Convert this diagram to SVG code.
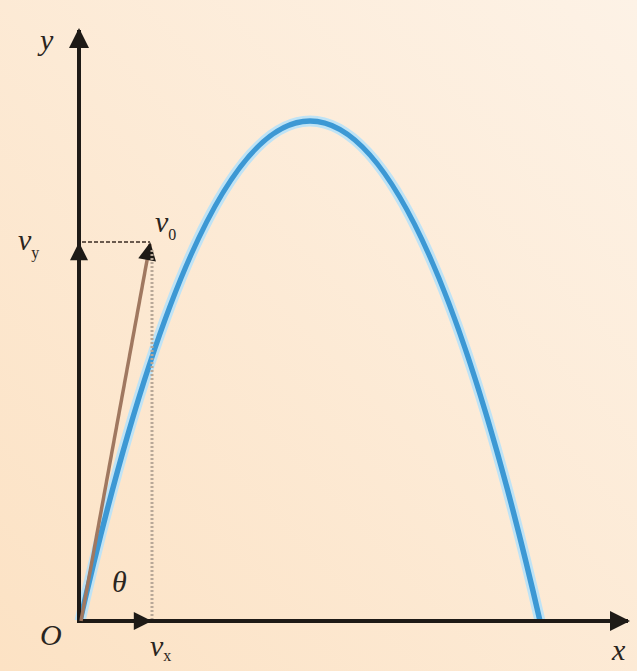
<svg xmlns="http://www.w3.org/2000/svg" width="637" height="671" viewBox="0 0 637 671">
<defs>
<linearGradient id="bg" x1="0" y1="1" x2="1" y2="0">
<stop offset="0" stop-color="#fce2c4"/>
<stop offset="1" stop-color="#fdf2e6"/>
</linearGradient>
<marker id="big" viewBox="0 0 10 10" refX="9" refY="5" markerWidth="26" markerHeight="20" markerUnits="userSpaceOnUse" orient="auto">
<path d="M0,0 L10,5 L0,10 Z" fill="#1e1a16"/>
</marker>
<marker id="mid" viewBox="0 0 10 10" refX="9" refY="5" markerWidth="24" markerHeight="18" markerUnits="userSpaceOnUse" orient="auto">
<path d="M0,0 L10,5 L0,10 Z" fill="#1e1a16"/>
</marker>
</defs>
<style>
.lbl{font-family:"Liberation Serif","DejaVu Serif",serif;font-style:italic;fill:#2a2520;}
.sub{font-family:"Liberation Serif","DejaVu Serif",serif;font-style:normal;fill:#2a2520;}
.axis{stroke:#1e1a16;stroke-width:4;fill:none;}
</style>
<rect width="637" height="671" fill="url(#bg)"/>
<g id="curve">
<path d="M80,621 Q310,-379 540,621" fill="none" stroke="#bfe3f5" stroke-width="11"/>
<path d="M80,621 Q310,-379 540,621" fill="none" stroke="#3c98d4" stroke-width="5.5"/>
</g>
<g id="connectors">
<line class="axis" x1="79" y1="623" x2="79" y2="30" marker-end="url(#big)"/>
<line class="axis" x1="77" y1="621" x2="628" y2="621" marker-end="url(#big)"/>
<line x1="79" y1="621" x2="79" y2="244" stroke="#1e1a16" stroke-width="4" marker-end="url(#mid)"/>
<line x1="79" y1="621" x2="150" y2="621" stroke="#1e1a16" stroke-width="4" marker-end="url(#mid)"/>
<line x1="81" y1="621" x2="150" y2="244" stroke="#a07860" stroke-width="3.5" marker-end="url(#mid)"/>
<line x1="82" y1="242" x2="150" y2="242" stroke="#6a5a4e" stroke-width="2" stroke-dasharray="4,2"/>
<line x1="152" y1="250" x2="152" y2="619" stroke="#b8a898" stroke-width="3" stroke-dasharray="2,2"/>
</g>
<g id="labels">
<text class="lbl" x="40" y="50" font-size="30">y</text>
<text class="lbl" x="612" y="660" font-size="30">x</text>
<text class="lbl" x="40" y="645" font-size="30">O</text>
<text class="lbl" x="112" y="592" font-size="30">θ</text>
<text class="lbl" x="18" y="250" font-size="30">v<tspan class="sub" font-size="16" dy="8">y</tspan></text>
<text class="lbl" x="155" y="232" font-size="30">v<tspan class="sub" font-size="16" dy="8">0</tspan></text>
<text class="lbl" x="150" y="656" font-size="30">v<tspan class="sub" font-size="16" dy="5">x</tspan></text>
</g>
</svg>
